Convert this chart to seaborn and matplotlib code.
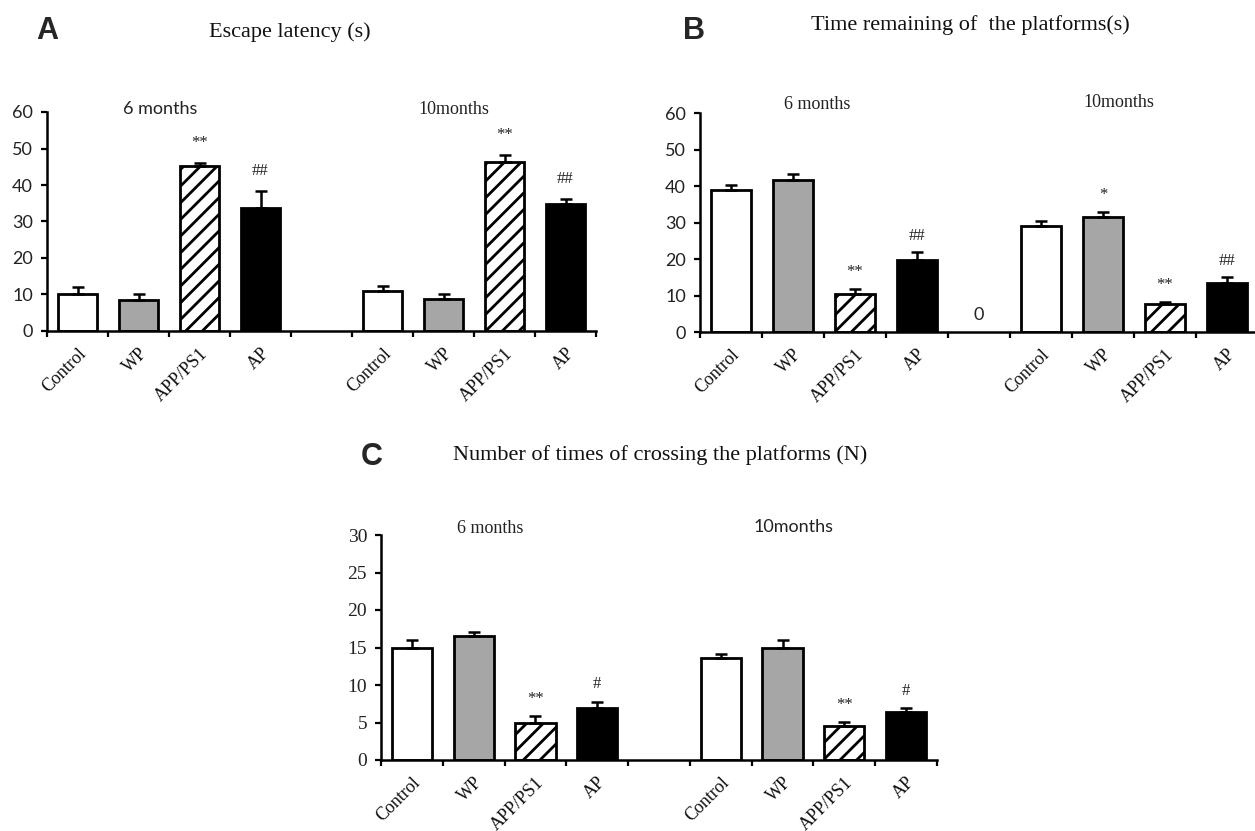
import matplotlib
matplotlib.use("Agg")
import matplotlib.pyplot as plt
import seaborn as sns
import numpy as np
import pandas as pd

# ---------------- data ----------------
categories = ["Control", "WP", "APP/PS1", "AP"]
months = ["6 months", "10months"]

escape_6 = [10.2, 8.5, 45.1, 33.7]
escape_6_err = [1.9, 1.7, 0.8, 4.7]
escape_10 = [11.0, 8.9, 46.2, 34.9]
escape_10_err = [1.3, 1.3, 2.1, 1.3]
escape_marks_6 = ["", "", "**", "##"]
escape_marks_10 = ["", "", "**", "##"]

remain_6 = [38.8, 41.7, 10.3, 19.8]
remain_6_err = [1.4, 1.6, 1.6, 2.0]
remain_10 = [29.0, 31.4, 7.6, 13.3]
remain_10_err = [1.3, 1.6, 0.7, 1.7]
remain_marks_6 = ["", "", "**", "##"]
remain_marks_10 = ["", "*", "**", "##"]

cross_6 = [15.0, 16.6, 4.9, 6.9]
cross_6_err = [1.0, 0.5, 1.0, 0.9]
cross_10 = [13.6, 15.0, 4.5, 6.4]
cross_10_err = [0.6, 1.0, 0.6, 0.5]
cross_marks_6 = ["", "", "**", "#"]
cross_marks_10 = ["", "", "**", "#"]

titles = ["Escape latency (s)", "Time remaining of  the platforms(s)",
          "Number of times of crossing the platforms (N)"]
panel_letters = ["A", "B", "C"]

# ---------------- style ----------------
sns.set_theme(style="white")
plt.rcParams["font.family"] = ["DejaVu Sans"]
plt.rcParams["hatch.linewidth"] = 2.0
plt.rcParams["hatch.color"] = "black"

W, H = 1255, 831
fig = plt.figure(figsize=(W / 100, H / 100), dpi=100)
fig.patch.set_facecolor("white")

SERIF = "Liberation Serif"
SANS = "Lato"

bar_colors = ["white", "#a6a6a6", "white", "black"]
bar_hatches = ["", "", "//", ""]

gap = "__gap__"
order = [f"{c}|6" for c in categories] + [gap] + [f"{c}|10" for c in categories]


def rect(l, r, top, bottom):
    return [l / W, (H - bottom) / H, (r - l) / W, (bottom - top) / H]


def panel(ax, v6, e6, v10, e10, m6, m10, ymax, ystep, ytick_font,
          lab6, lab10, mark_off):
    df = pd.DataFrame({
        "slot": [f"{c}|6" for c in categories] + [f"{c}|10" for c in categories],
        "value": list(v6) + list(v10),
    })
    sns.barplot(data=df, x="slot", y="value", order=order, ax=ax,
                width=0.65, errorbar=None, color="white",
                edgecolor="black", linewidth=2.0, zorder=2)
    patches = sorted(ax.patches, key=lambda p: p.get_x())
    styles = bar_colors + bar_colors
    hatches = bar_hatches + bar_hatches
    for p, fc, h in zip(patches, styles, hatches):
        p.set_facecolor(fc)
        p.set_hatch(h)
        p.set_edgecolor("black")
    xs6 = np.arange(4)
    xs10 = np.arange(5, 9)
    for xs, v, e, m in ((xs6, v6, e6, m6), (xs10, v10, e10, m10)):
        ax.errorbar(xs, v, yerr=[np.zeros(4), e], fmt="none", ecolor="black",
                    elinewidth=1.8, capsize=4.5, capthick=1.8, zorder=3)
        for x, vv, ee, mm in zip(xs, v, e, m):
            if mm:
                ax.text(x, vv + ee + mark_off, mm, ha="center", va="center",
                        fontsize=12, family=SERIF, color="#222222")
    ax.set_xlim(-0.5, 8.5)
    ax.set_ylim(0, ymax)
    ticks = np.arange(0, ymax + 0.1, ystep)
    ax.set_yticks(ticks)
    ax.set_yticklabels([f"{int(t)}" for t in ticks],
                       family=ytick_font, fontsize=13 if ytick_font == SANS else 14,
                       color="#222222")
    ax.set_xticks(list(xs6) + list(xs10))
    ax.set_xticklabels(categories + categories, rotation=45, ha="right",
                       rotation_mode="anchor", family=SERIF, fontsize=13,
                       color="#111111")
    ax.set_xticks(np.arange(-0.5, 9.0, 1.0), minor=True)
    ax.tick_params(axis="x", which="major", length=0, pad=10)
    ax.tick_params(axis="x", which="minor", length=4, width=1.6,
                   direction="out", color="black", bottom=True)
    ax.tick_params(axis="y", length=4, width=1.6, direction="out",
                   color="black", left=True, pad=6)
    ax.set_xlabel("")
    ax.set_ylabel("")
    for s in ("top", "right"):
        ax.spines[s].set_visible(False)
    for s in ("left", "bottom"):
        ax.spines[s].set_color("black")
        ax.spines[s].set_linewidth(1.8)
    ax.patch.set_alpha(0)
    # group labels
    for (x, y, txt, fam) in (lab6, lab10):
        ax.text(x, y, txt, ha="center", va="center", fontsize=13,
                family=fam, color="#222222")


# Panel A
axA = fig.add_axes(rect(47, 596, 112, 331))
panel(axA, escape_6, escape_6_err, escape_10, escape_10_err,
      escape_marks_6, escape_marks_10, 60, 10, SANS,
      (1.35, 60.7, months[0], SANS), (6.17, 60.7, months[1], SERIF), 5.5)

# Panel B
axB = fig.add_axes(rect(700, 1258, 113, 332))
panel(axB, remain_6, remain_6_err, remain_10, remain_10_err,
      remain_marks_6, remain_marks_10, 60, 10, SANS,
      (1.39, 62.2, months[0], SERIF), (6.26, 63.0, months[1], SERIF), 4.5)
axB.text(4, 4.7, "0", ha="center", va="center", fontsize=13, family=SANS,
         color="#222222")

# Panel C
axC = fig.add_axes(rect(381, 937, 535, 760))
panel(axC, cross_6, cross_6_err, cross_10, cross_10_err,
      cross_marks_6, cross_marks_10, 30, 5, SERIF,
      (1.27, 30.9, months[0], SERIF), (6.18, 31.1, months[1], SANS), 2.3)

# titles and panel letters
fig.text(290 / W, 1 - 32 / H, titles[0], ha="center", va="center",
         family=SERIF, fontsize=16, color="#111111")
fig.text(970 / W, 1 - 25 / H, titles[1], ha="center", va="center",
         family=SERIF, fontsize=16, color="#111111")
fig.text(660 / W, 1 - 455 / H, titles[2], ha="center", va="center",
         family=SERIF, fontsize=16, color="#111111")
fig.text(47 / W, 1 - 31 / H, panel_letters[0], ha="center", va="center",
         family="Liberation Sans", fontweight="bold", fontsize=22)
fig.text(694 / W, 1 - 31 / H, panel_letters[1], ha="center", va="center",
         family="Liberation Sans", fontweight="bold", fontsize=22)
fig.text(372 / W, 1 - 457 / H, panel_letters[2], ha="center", va="center",
         family="Liberation Sans", fontweight="bold", fontsize=22)

fig.savefig("out.png", dpi=100, facecolor="white")
